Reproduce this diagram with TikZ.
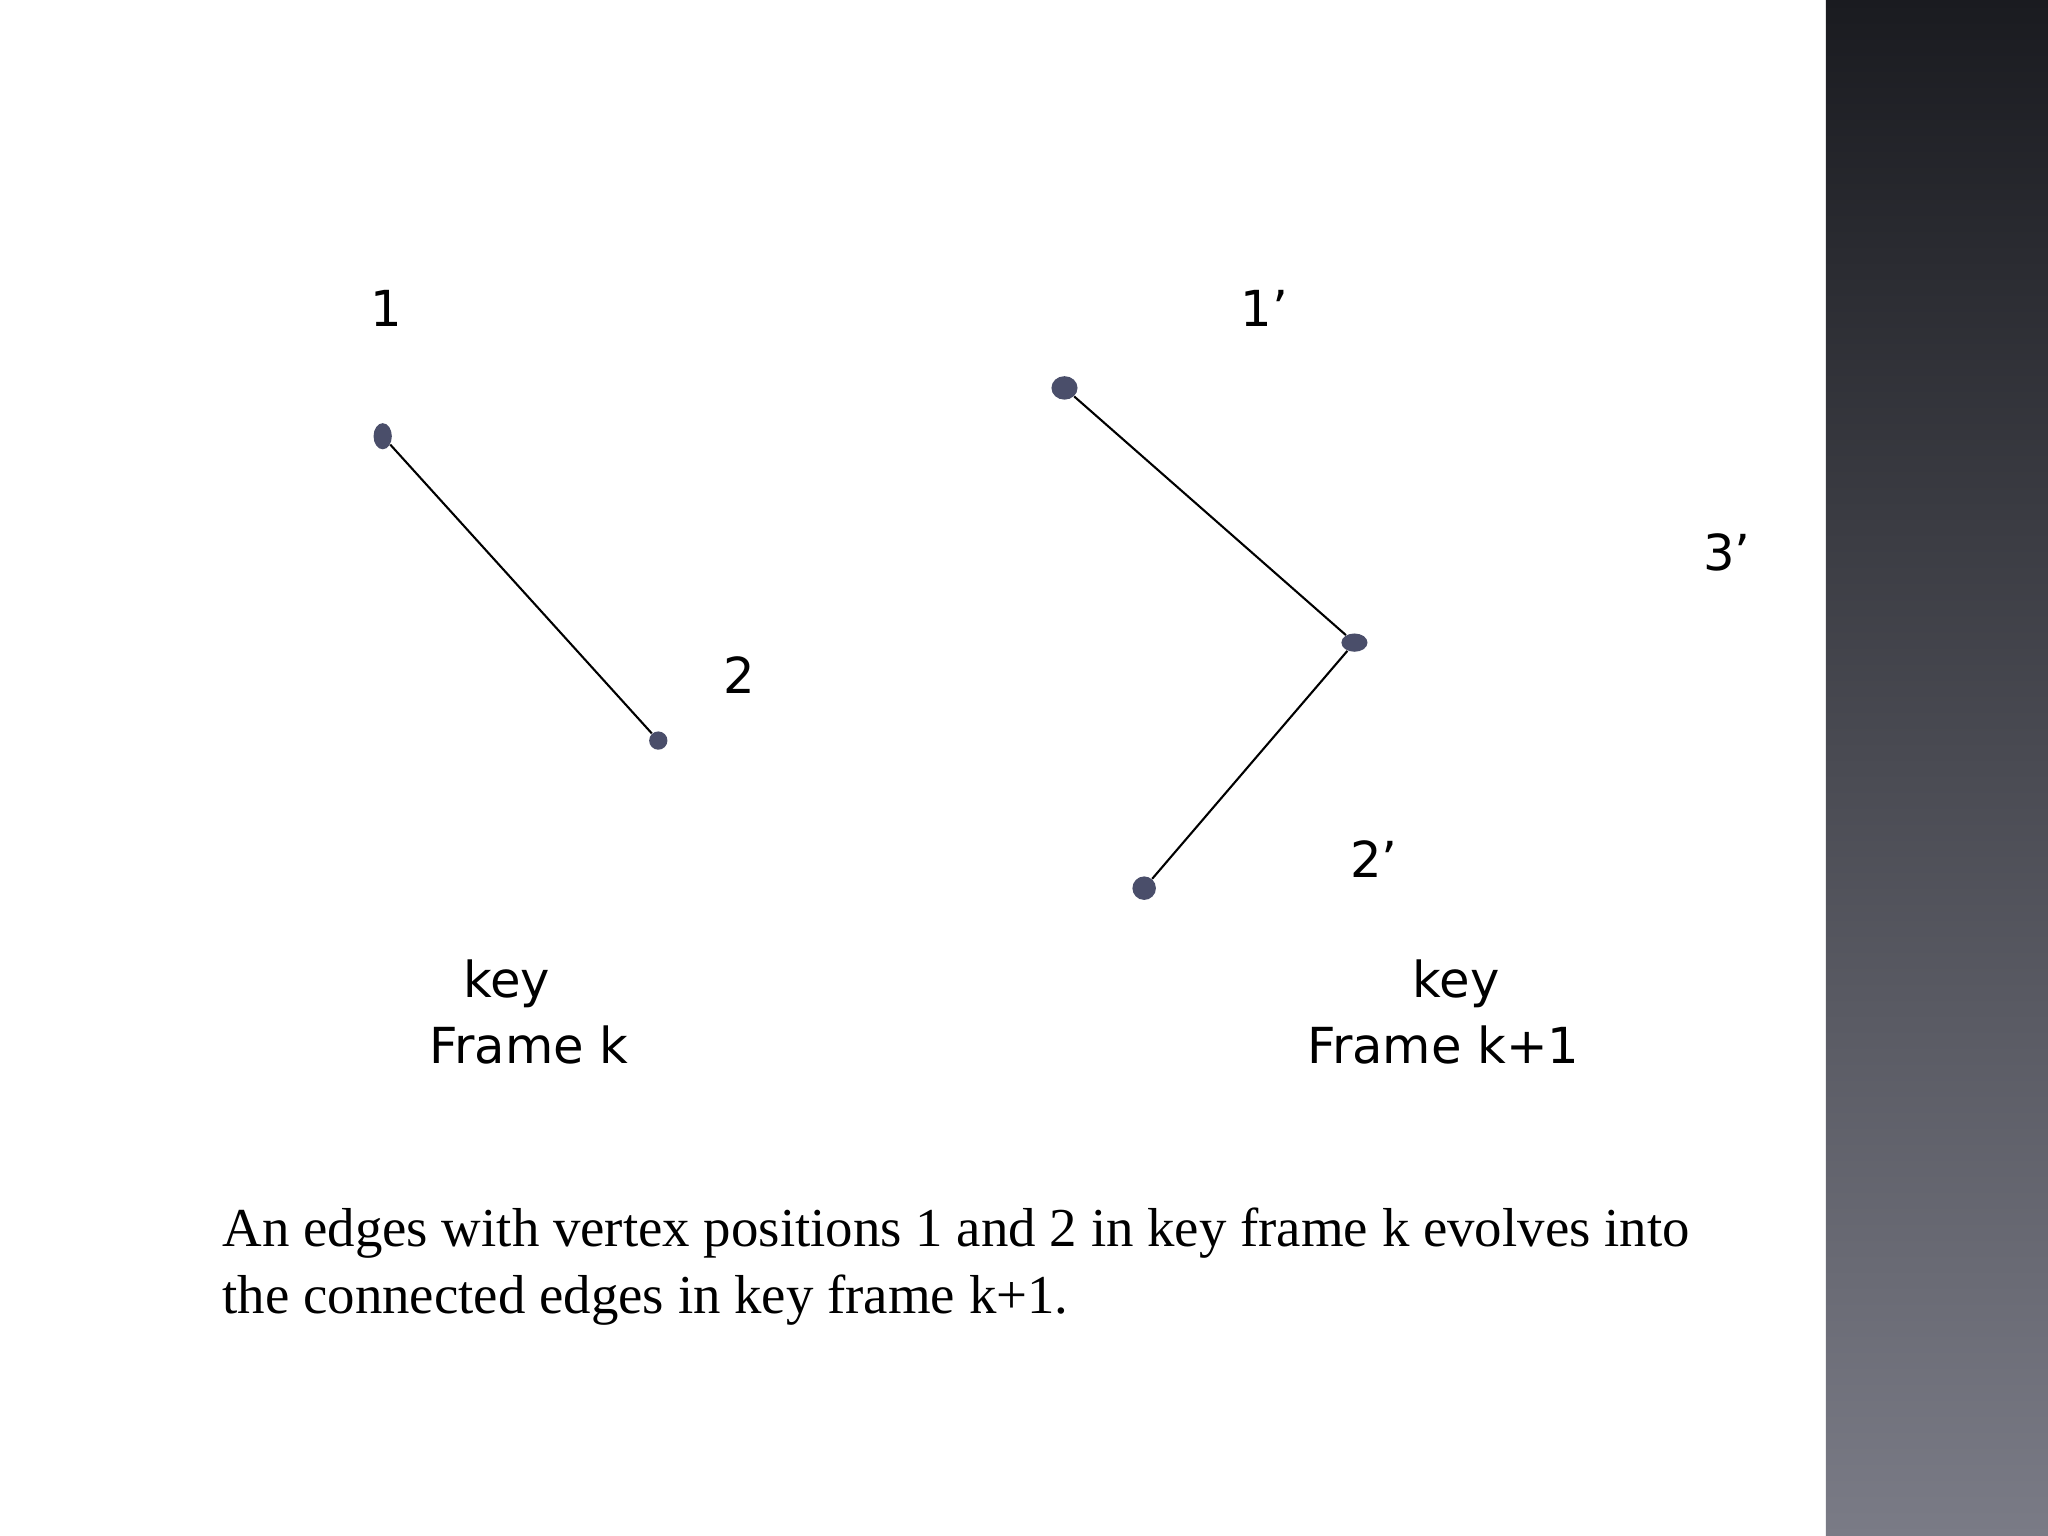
\documentclass[tikz,border=0pt]{standalone}
\usepackage{fontspec}
\usetikzlibrary{shapes.geometric}
\setmainfont{Liberation Serif}
\newfontfamily\lab{DejaVu Sans}
\definecolor{dotc}{HTML}{4A4E6A}
\definecolor{bartop}{HTML}{1A1B20}
\definecolor{barbot}{HTML}{7A7B86}
\begin{document}
\begin{tikzpicture}[x=0.5pt,y=-0.5pt,
  lbl/.style={font=\lab\fontsize{19}{22}\selectfont,inner sep=0pt},
  vtx/.style={ellipse,fill=dotc,inner sep=0pt},
  edge/.style={line width=0.8pt}]
\useasboundingbox (0,0) rectangle (1568,1176);
\shade[top color=bartop,bottom color=barbot] (1398,0) rectangle (1568,1176);
\node[lbl] (l1) at (296,236) {1};
\node[lbl] (l2) at (566,517) {2};
\node[lbl] (l1p) at (968,236) {1’};
\node[lbl] (l2p) at (1052,658) {2’};
\node[lbl] (l3p) at (1322,423) {3’};
\node[vtx,minimum width=7pt,minimum height=10pt] (a) at (293,334) {};
\node[vtx,minimum width=7pt,minimum height=7pt] (b) at (504,567) {};
\node[vtx,minimum width=10pt,minimum height=9pt] (c) at (815,297) {};
\node[vtx,minimum width=10pt,minimum height=7pt] (d) at (1037,492) {};
\node[vtx,minimum width=9pt,minimum height=9pt] (e) at (876,680) {};
\draw[edge] (a) -- (b);
\draw[edge] (c) -- (d);
\draw[edge] (d) -- (e);
\node[lbl] (k1) at (388,753) {key};
\node[lbl] (f1) at (405,800) {Frame k};
\node[lbl] (k2) at (1115,753) {key};
\node[lbl] (f2) at (1105,800) {Frame k+1};
\node[anchor=north west,align=left,inner sep=0pt,font=\fontsize{21}{26}\selectfont] (cap) at (170,924)
 {An edges with vertex positions 1 and 2 in key frame k evolves into\\the connected edges in key frame k+1.};
\end{tikzpicture}
\end{document}
